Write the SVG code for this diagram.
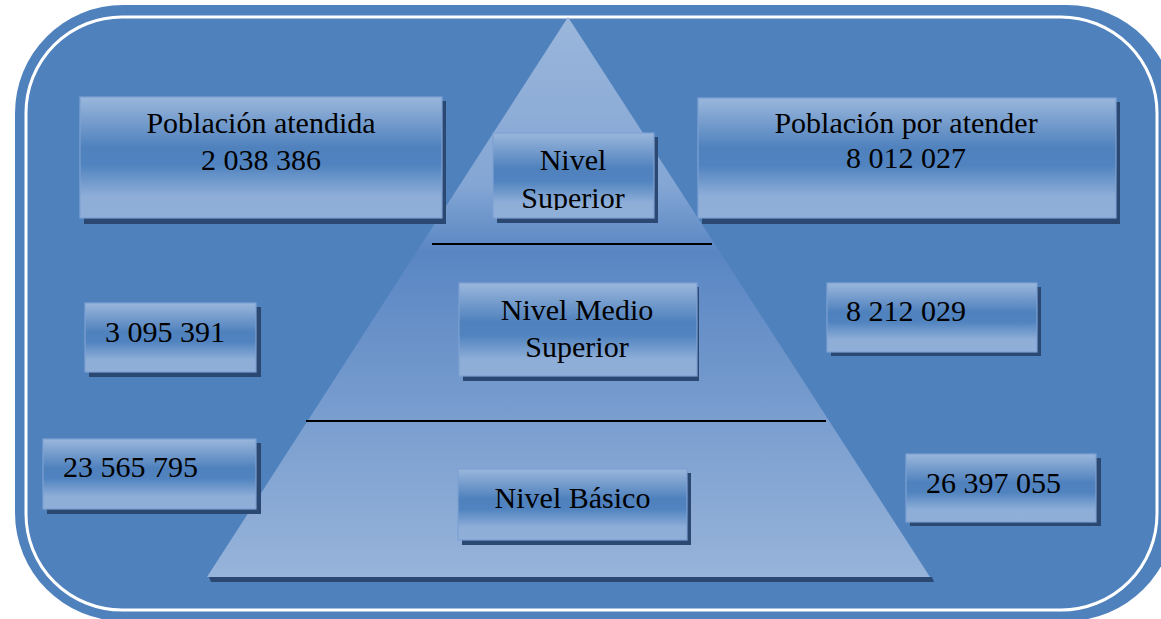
<svg xmlns="http://www.w3.org/2000/svg" width="1161" height="619" viewBox="0 0 1161 619">
<defs>
<linearGradient id="boxGrad" x1="0" y1="0" x2="0" y2="1">
<stop offset="0" stop-color="#9ab7dc"/>
<stop offset="0.42" stop-color="#4f81bd"/>
<stop offset="0.56" stop-color="#5083bf"/>
<stop offset="0.82" stop-color="#8eaed8"/>
<stop offset="1" stop-color="#8fafd8"/>
</linearGradient>
<linearGradient id="pyrGrad" gradientUnits="userSpaceOnUse" x1="0" y1="17" x2="0" y2="577">
<stop offset="0" stop-color="#9ab6db"/>
<stop offset="0.3" stop-color="#84a6d4"/>
<stop offset="0.42" stop-color="#5986c3"/>
<stop offset="0.72" stop-color="#7a9ecf"/>
<stop offset="1" stop-color="#97b4da"/>
</linearGradient>
<clipPath id="clipSup"><rect x="493" y="133" width="161" height="77"/></clipPath>
<style>
.box{fill:url(#boxGrad);stroke:#7da1d2;stroke-width:1.2}
.shadow{fill:#2b4872}
.t{font-family:"Liberation Serif","Times New Roman",serif;font-size:30px;fill:#000}
.c{text-anchor:middle}
.div{stroke:#000;stroke-width:2}
</style>
</defs>

<g id="background">
<rect x="0" y="0" width="1161" height="619" fill="#ffffff"/>
<rect x="15" y="5" width="1160" height="616" rx="108" ry="108" fill="#4f81bd"/>
<rect x="26" y="17" width="1131" height="593" rx="96" ry="96" fill="none" stroke="#ffffff" stroke-width="3"/>
</g>

<g id="pyramid">
<polygon points="209,577 932,577 934,582 211,582" fill="#2b4872"/>
<polygon points="568,17 207,577 930,577" fill="url(#pyrGrad)"/>
</g>

<g id="connectors">
<line class="div" x1="432" y1="244" x2="712" y2="244"/>
<line class="div" x1="306" y1="421" x2="826" y2="421"/>
</g>

<g id="poblacion-atendida">
<rect class="shadow" x="84" y="101" width="362" height="123"/>
<rect class="box" x="80" y="97" width="362" height="121"/>
<text class="t c" x="261" y="133">Población atendida</text>
<text class="t c" x="261" y="170">2 038 386</text>
</g>

<g id="nivel-superior">
<rect class="shadow" x="497" y="137" width="161" height="86"/>
<rect class="box" x="493" y="133" width="161" height="85"/>
<g clip-path="url(#clipSup)">
<text class="t c" x="573" y="170">Nivel</text>
<text class="t c" x="573" y="208">Superior</text>
</g>
</g>

<g id="poblacion-por-atender">
<rect class="shadow" x="702" y="102" width="418" height="122"/>
<rect class="box" x="698" y="98" width="418" height="120"/>
<text class="t c" x="906" y="133">Población por atender</text>
<text class="t c" x="906" y="168">8 012 027</text>
</g>

<g id="medio-atendida">
<rect class="shadow" x="89" y="307" width="172" height="70"/>
<rect class="box" x="85" y="303" width="171" height="69"/>
<text class="t" x="105" y="342">3 095 391</text>
</g>

<g id="nivel-medio-superior">
<rect class="shadow" x="463" y="287" width="236" height="94"/>
<rect class="box" x="459" y="283" width="238" height="93"/>
<text class="t c" x="577" y="320">Nivel Medio</text>
<text class="t c" x="577" y="357">Superior</text>
</g>

<g id="medio-por-atender">
<rect class="shadow" x="831" y="287" width="210" height="69"/>
<rect class="box" x="827" y="283" width="210" height="69"/>
<text class="t" x="846" y="321">8 212 029</text>
</g>

<g id="basico-atendida">
<rect class="shadow" x="47" y="443" width="214" height="71"/>
<rect class="box" x="43" y="439" width="213" height="70"/>
<text class="t" x="63" y="477">23 565 795</text>
</g>

<g id="nivel-basico">
<rect class="shadow" x="462" y="473" width="229" height="72"/>
<rect class="box" x="458" y="469" width="229" height="71"/>
<text class="t c" x="572.5" y="508">Nivel Básico</text>
</g>

<g id="basico-por-atender">
<rect class="shadow" x="910" y="458" width="191" height="68"/>
<rect class="box" x="906" y="454" width="190" height="68"/>
<text class="t" x="926" y="493">26 397 055</text>
</g>
</svg>
